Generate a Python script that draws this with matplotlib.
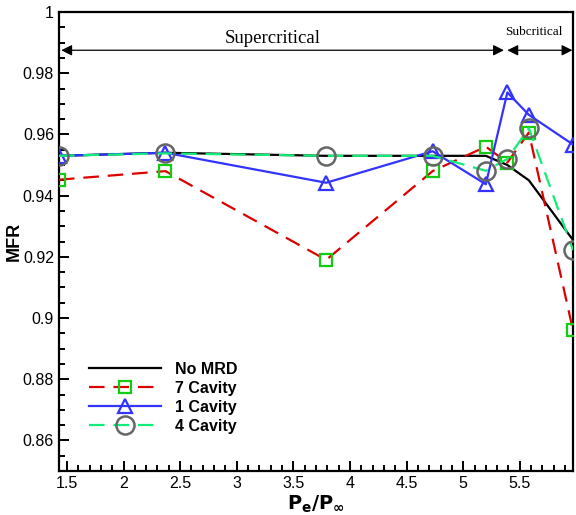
import matplotlib
matplotlib.use("Agg")
import matplotlib.pyplot as plt
from matplotlib.ticker import MultipleLocator

# Exit-to-freestream pressure ratio
pe_ratio = [1.43, 2.37, 3.79, 4.73, 5.20, 5.39, 5.58, 5.97]

# Mass flow ratio for each configuration
mfr_no_mrd = [0.953, 0.954, 0.953, 0.953, 0.953, 0.950, 0.945, 0.9255]
mfr_7_cavity = [0.9452, 0.9480, 0.9190, 0.9480, 0.9560, 0.9508, 0.9606, 0.8960]
mfr_1_cavity = [0.9530, 0.9540, 0.9442, 0.9545, 0.9437, 0.9737, 0.9664, 0.9567]
mfr_4_cavity = [0.9530, 0.9538, 0.9530, 0.9530, 0.9481, 0.9520, 0.9620, 0.9222]

series_labels = ["No MRD", "7 Cavity", "1 Cavity", "4 Cavity"]

plt.rcParams["font.family"] = ["Liberation Sans", "DejaVu Sans"]

fig = plt.figure(figsize=(5.76, 5.15), dpi=100)
ax = fig.add_axes([0.1024, 0.0854, 0.8924, 0.8913])

ax.plot(pe_ratio, mfr_no_mrd, color="black", lw=1.6, label=series_labels[0], zorder=3)
ax.plot(pe_ratio, mfr_7_cavity, color="#dd0000", lw=1.6, dashes=(7, 4),
        marker="s", ms=9, mfc="none", mec="#11cc11", mew=1.6,
        label=series_labels[1], zorder=4)
ax.plot(pe_ratio, mfr_1_cavity, color="#3333ff", lw=1.6,
        marker="^", ms=10, mfc="none", mec="#3333ff", mew=1.6,
        label=series_labels[2], zorder=4)
ax.plot(pe_ratio, mfr_4_cavity, color="#11ee77", lw=1.6, dashes=(7, 4),
        marker="o", ms=13, mfc="none", mec="#666666", mew=1.8,
        label=series_labels[3], zorder=5)

ax.set_xlim(1.43, 5.97)
ax.set_ylim(0.85, 1.0)
ax.xaxis.set_minor_locator(MultipleLocator(0.1))
ax.yaxis.set_minor_locator(MultipleLocator(0.005))
ax.set_xticks([1.5, 2, 2.5, 3, 3.5, 4, 4.5, 5, 5.5])
ax.set_xticklabels(["1.5", "2", "2.5", "3", "3.5", "4", "4.5", "5", "5.5"])
ax.set_yticks([0.86, 0.88, 0.9, 0.92, 0.94, 0.96, 0.98, 1.0])
ax.set_yticklabels(["0.86", "0.88", "0.9", "0.92", "0.94", "0.96", "0.98", "1"])

ax.tick_params(which="both", direction="in", top=False, right=False,
               labelsize=11.5, width=1.4)
ax.tick_params(which="major", length=7)
ax.tick_params(which="minor", length=4)
for s in ax.spines.values():
    s.set_linewidth(1.6)

ax.set_xlabel(r"$\mathbf{P_e/P_\infty}$", fontsize=14, labelpad=2)
ax.set_ylabel("MFR", fontsize=13, fontweight="bold", labelpad=0)

# Flow regime markers
arrow_kw = dict(arrowstyle="<|-|>", color="black", lw=0.9,
                mutation_scale=16, shrinkA=0, shrinkB=0)
ax.annotate("", xy=(1.45, 0.9875), xytext=(5.36, 0.9875), arrowprops=arrow_kw)
ax.annotate("", xy=(5.39, 0.9875), xytext=(5.965, 0.9875), arrowprops=arrow_kw)
ax.text(3.32, 0.9885, "Supercritical", family="Liberation Serif",
        fontsize=13.5, ha="center", va="bottom")
ax.text(5.62, 0.9915, "Subcritical", family="Liberation Serif",
        fontsize=9.5, ha="center", va="bottom")

leg = ax.legend(loc="lower left", bbox_to_anchor=(0.03, 0.05), frameon=False,
                prop={"weight": "bold", "size": 11.5}, handlelength=4.5,
                labelspacing=0.25, handletextpad=0.9)

fig.savefig("out.png", dpi=100)
